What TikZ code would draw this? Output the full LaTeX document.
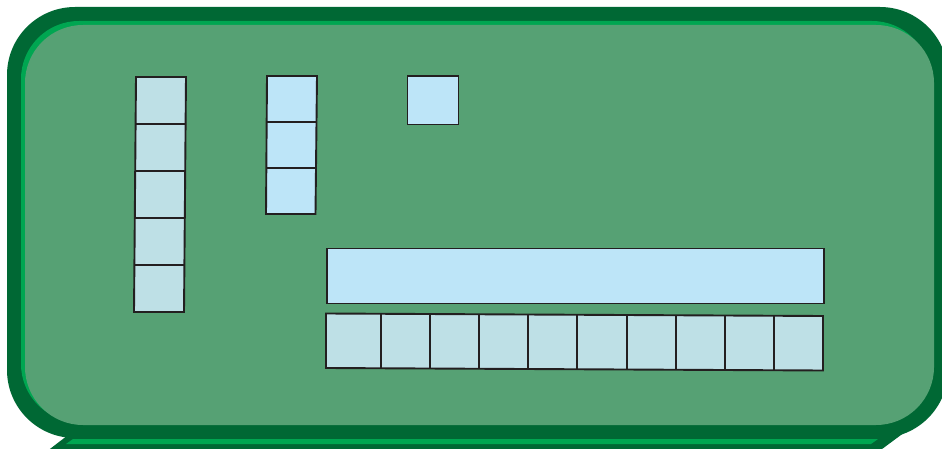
\documentclass[tikz,border=0pt]{standalone}
\usetikzlibrary{calc}
\definecolor{darkgreen}{RGB}{0,104,52}
\definecolor{brightgreen}{RGB}{0,166,81}
\definecolor{fillgreen}{RGB}{86,161,116}
\definecolor{teal}{RGB}{190,224,230}
\definecolor{skyblue}{RGB}{189,229,248}
\definecolor{inkline}{RGB}{35,31,32}
\tikzset{
  tealbox/.style={fill=teal,draw=inkline,line width=1.9pt,line join=miter},
  bluebox/.style={fill=skyblue,draw=inkline,line width=1.9pt,line join=miter},
  divider/.style={draw=inkline,line width=1.9pt}
}
\begin{document}
\begin{tikzpicture}[x=1pt,y=-1pt]
\useasboundingbox (0,0) rectangle (942,449);
% card behind
\fill[darkgreen] (46,452) -- (72,432) -- (905,432) -- (878,452) -- cycle;
\fill[brightgreen] (66,444) -- (73,439) -- (878,439) -- (871,444) -- cycle;
% main card
\fill[darkgreen,rounded corners=68pt] (7,7) rectangle (948,438);
\fill[brightgreen,rounded corners=58pt] (21,21) rectangle (930,422);
\fill[fillgreen,rounded corners=58pt] (25,25) rectangle (934,425);
% left column of 5
\draw[tealbox] (136,77) -- (186,77) -- (184,312) -- (134,312) -- cycle;
\foreach \i in {1,...,4}{
  \draw[divider] ({136-0.4*\i},{77+47*\i}) -- ({186-0.4*\i},{77+47*\i});
}
% middle column of 3
\draw[bluebox] (267,76) -- (317,76) -- (315.5,214) -- (266,214) -- cycle;
\foreach \i in {1,2}{
  \draw[divider] ({267-0.33*\i},{76+46*\i}) -- ({317-0.5*\i},{76+46*\i});
}
% single square
\draw[bluebox] (407.5,76) rectangle (458.5,124.5);
% long bar
\draw[bluebox] (327,248.5) rectangle (824,303.5);
% row of ten
\draw[tealbox] (326,313.5) -- (823,316) -- (823,370.5) -- (326,368) -- cycle;
\foreach \x in {381,430,479,528,577,627,676,725,774}{
  \draw[divider] (\x,{313.5+2.5*(\x-326)/497}) -- (\x,{368+2.5*(\x-326)/497});
}
\end{tikzpicture}
\end{document}
